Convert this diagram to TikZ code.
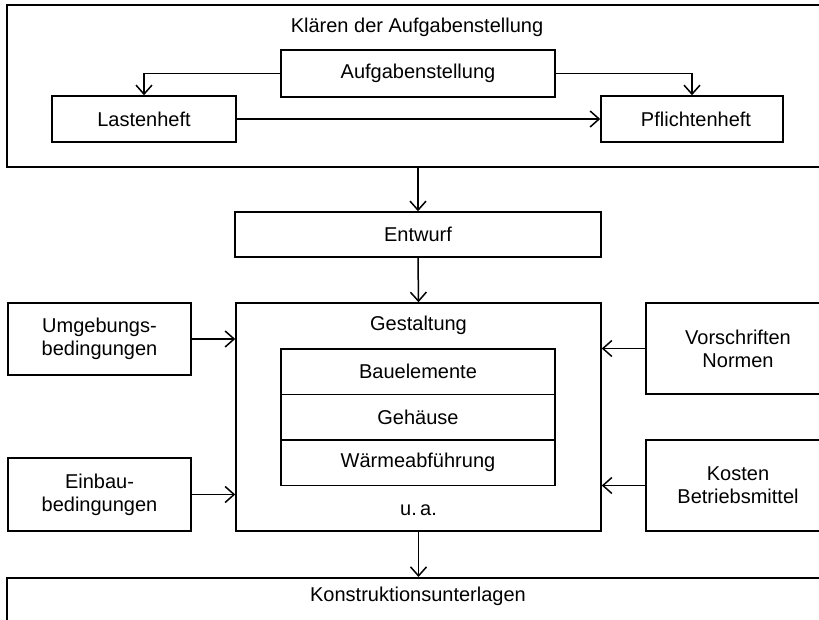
\documentclass[tikz,border=0pt]{standalone}
\usepackage{fontspec}
\setmainfont{Liberation Sans}
\usetikzlibrary{arrows.meta}
\tikzset{
  box/.style={draw, line width=1.5pt, inner sep=0pt, align=center},
  txt/.style={inner sep=0pt, align=center},
  conn/.style={draw, line width=1.5pt, -{Straight Barb[length=9pt,width=16pt]}},
}
\begin{document}
\begin{tikzpicture}[x=1pt, y=-1pt, font=\fontsize{20}{23}\selectfont]
\useasboundingbox (0,0) rectangle (819,620);
\clip (0,0) rectangle (819,620);
% top group
\node[box, minimum width=822, minimum height=162] (top) at (418,86) {};
\node[txt] (topT) at (417,27) {Klären der Aufgabenstellung};
\node[box, minimum width=274, minimum height=47] (aufg) at (418,73.5) {Aufgabenstellung};
\node[box, minimum width=184, minimum height=46] (last) at (144,119) {Lastenheft};
\node[box, minimum width=182, minimum height=46] (pfl) at (692,119) {\hspace*{8pt}Pflichtenheft};
% middle
\node[box, minimum width=366, minimum height=45] (entw) at (418,234.5) {Entwurf};
\node[box, minimum width=365, minimum height=228] (gest) at (418.5,417) {};
\node[txt] (gestT) at (418.5,325) {Gestaltung};
\node[box, minimum width=274, minimum height=45.5] (bau) at (418,371.5) {Bauelemente};
\node[box, minimum width=274, minimum height=45.5] (geh) at (418,417) {Gehäuse};
\node[box, minimum width=274, minimum height=45.5] (waer) at (418,462.5) {Wärmeabführung};
\node[txt] (ua) at (418.5,510) {u.\,a.};
% side boxes
\node[box, minimum width=183, minimum height=72] (umg) at (99.5,339) {Umgebungs-\\bedingungen};
\node[box, minimum width=183, minimum height=73] (ein) at (99.5,494.5) {Einbau-\\bedingungen};
\node[box, minimum width=184, minimum height=91] (vor) at (738,348.5) {Vorschriften\\Normen};
\node[box, minimum width=184, minimum height=91] (kos) at (738,485.5) {Kosten\\Betriebsmittel};
% bottom
\node[box, minimum width=822, minimum height=50, anchor=north] (kon) at (418,577) {};
\node[txt] (konT) at (418,596) {Konstruktionsunterlagen};
% connectors
\draw[conn] (aufg.west) -| (last.north);
\draw[conn] (aufg.east) -| (pfl.north);
\draw[conn] (last.east) -- (pfl.west);
\draw[conn] (top.south -| entw.north) -- (entw.north);
\draw[conn] (entw.south) -- (gest.north);
\draw[conn] (umg.east) -- (umg.east -| gest.west);
\draw[conn] (ein.east) -- (ein.east -| gest.west);
\draw[conn] (vor.west) -- (vor.west -| gest.east);
\draw[conn] (kos.west) -- (kos.west -| gest.east);
\draw[conn] (gest.south) -- (gest.south |- kon.north);
\end{tikzpicture}
\end{document}
